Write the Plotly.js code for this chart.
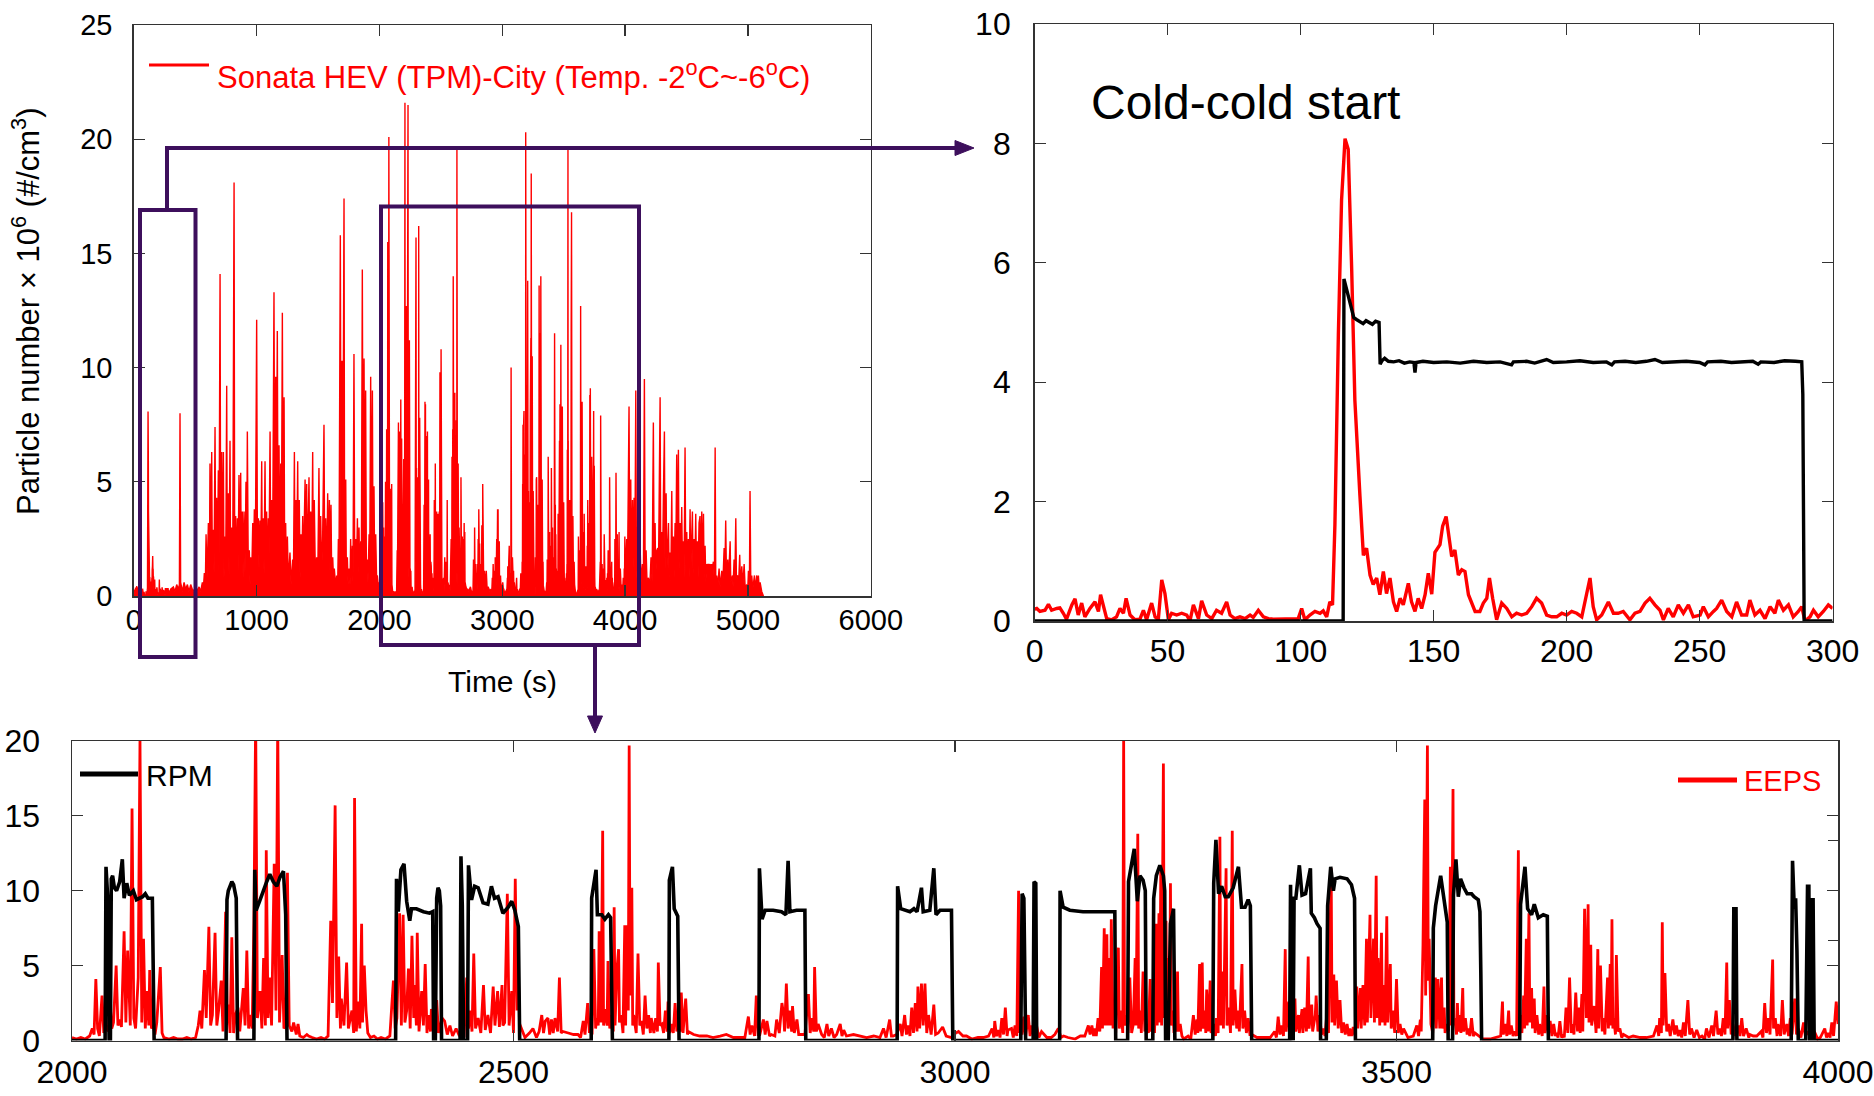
<!DOCTYPE html>
<html><head><meta charset="utf-8">
<script src="https://cdn.plot.ly/plotly-3.0.1.min.js"></script>
<style>html,body{margin:0;padding:0;background:#fff;overflow:hidden}#chart{width:1874px;height:1096px}</style>
</head><body><div id="chart"></div>
<script>
// ---------- DATA (time s, value) ----------
// Cold-start part 0-300 s, particle number x1e6 (#/cm3)
const coldEEPS = [[0,0.2],[0.8,0.21],[2.0,0.16],[3.9,0.18],[5.2,0.28],[6.4,0.18],[8.3,0.21],[9.5,0.22],[10.8,0.13],[12.0,0.03],[14.0,0.27],[15.2,0.37],[16.4,0.10],[17.7,0.30],[18.9,0.07],[20.8,0.21],[22.7,0.32],[24.0,0.16],[24.8,0.44],[25.8,0.27],[27.1,0.04],[29.0,0.02],[30.8,0.07],[32.1,0.21],[33.4,0.13],[34.4,0.38],[35.9,0.10],[37.7,0.02],[39.6,0.03],[40.9,0.18],[42.1,0.02],[44.0,0.30],[45.3,0.07],[46.5,0.02],[47.8,0.69],[49.0,0.46],[50.3,0.02],[51.5,0.13],[53.4,0.10],[55.3,0.13],[57.2,0.10],[58.4,0.0],[59.7,0.27],[61.6,0.04],[62.8,0.34],[64.7,0.10],[66.6,0.04],[68.4,0.18],[70.3,0.13],[72.2,0.32],[73.5,0.10],[75.3,0.04],[77.2,0.07],[79.1,0.04],[81.0,0.10],[82.2,0.06],[84.1,0.18],[86.0,0.07],[87.9,0.04],[89.7,0.03],[91.6,0.03],[93.5,0.04],[95.4,0.03],[97.3,0.03],[99.1,0.04],[100.4,0.21],[101.6,0.02],[103.5,0.10],[105.4,0.16],[107.3,0.13],[108.5,0.17],[109.8,0.07],[111.0,0.32],[112.0,0.27],[112.9,1.61],[114.2,4.80],[115.4,7.05],[116.7,8.08],[117.9,7.90],[119.2,5.90],[120.4,3.70],[122.3,2.10],[123.6,1.10],[124.8,1.22],[126.1,0.77],[127.3,0.61],[128.6,0.72],[129.8,0.44],[131.1,0.83],[132.3,0.46],[133.6,0.72],[134.9,0.32],[136.1,0.16],[137.4,0.38],[138.6,0.27],[140.5,0.63],[141.7,0.32],[143.0,0.16],[144.2,0.38],[145.5,0.21],[146.8,0.44],[148.0,0.80],[149.3,0.45],[150.5,1.15],[152.4,1.28],[153.4,1.59],[154.7,1.75],[155.5,1.50],[156.8,1.08],[158.0,1.19],[159.3,0.77],[160.6,0.86],[161.8,0.83],[163.1,0.44],[164.3,0.30],[165.6,0.16],[167.4,0.16],[168.7,0.30],[170.0,0.38],[171.0,0.72],[172.2,0.38],[173.7,0.02],[175.6,0.30],[177.5,0.21],[179.4,0.07],[181.2,0.13],[183.1,0.10],[185.0,0.13],[186.9,0.24],[188.7,0.38],[190.6,0.30],[192.5,0.10],[194.4,0.07],[196.3,0.07],[198.2,0.13],[200.0,0.10],[201.9,0.16],[203.8,0.13],[205.7,0.07],[207.5,0.44],[208.8,0.72],[210.0,0.24],[211.3,0.02],[213.2,0.10],[215.7,0.32],[217.6,0.13],[219.4,0.13],[221.3,0.16],[223.8,0.02],[225.7,0.13],[227.6,0.16],[229.5,0.30],[231.3,0.38],[233.2,0.27],[235.1,0.18],[236.4,0.02],[238.2,0.21],[240.1,0.07],[242.0,0.27],[243.9,0.13],[245.8,0.27],[247.6,0.07],[250.2,0.10],[251.4,0.24],[253.3,0.07],[255.2,0.16],[256.4,0.21],[258.3,0.35],[260.2,0.16],[262.1,0.07],[263.9,0.32],[265.8,0.10],[267.7,0.10],[268.9,0.35],[270.8,0.10],[272.7,0.18],[274.6,0.04],[276.5,0.24],[278.3,0.13],[279.6,0.35],[281.5,0.18],[283.4,0.27],[285.2,0.07],[287.1,0.16],[288.4,0.24],[289.6,0.0],[291.5,0.07],[292.8,0.18],[294.6,0.07],[296.5,0.16],[298.4,0.27],[300.0,0.21]];

const coldRPM = [[0,0],[116.0,0],[116.3,5.73],[117.3,5.55],[118.3,5.42],[119.2,5.25],[120.0,5.08],[121.0,5.05],[122.3,5.02],[123.5,4.98],[124.6,5.03],[125.8,5.00],[127.0,4.97],[128.2,5.02],[129.5,5.00],[129.9,4.30],[130.6,4.36],[131.6,4.40],[133.0,4.35],[135.0,4.34],[137.0,4.36],[139.0,4.32],[141.0,4.34],[142.6,4.33],[143.0,4.16],[143.4,4.33],[146,4.35],[150,4.33],[155,4.34],[160,4.32],[165,4.35],[170,4.33],[175,4.34],[179.3,4.29],[180,4.34],[185,4.35],[188,4.32],[192.5,4.38],[195,4.33],[200,4.34],[205,4.36],[210,4.33],[215,4.34],[217,4.29],[218,4.34],[222,4.35],[226,4.33],[230,4.35],[233.2,4.38],[236,4.33],[240,4.34],[245,4.35],[250,4.33],[252,4.29],[253,4.34],[258,4.35],[262,4.33],[266,4.34],[270,4.35],[272,4.30],[273,4.34],[278,4.33],[282,4.36],[286,4.35],[288.4,4.34],[288.8,3.8],[289.3,0],[300,0]];

// City cycle 300-2000 s
const cityEEPS1 = [[301,0.3],[323,0.4],[336,0.2],[350,0.5],[363,0.3],[372,0.5],[377,8.0],[382,0.6],[396,0.2],[410,0.6],[423,0.3],[437,0.5],[450,0.2],[464,0.5],[477,0.3],[491,0.2],[504,0.5],[518,0.2],[532,0.4],[545,0.2],[559,0.6],[567,0.3],[575,1.0],[583,0.4],[589,2.7],[597,0.8],[608,3.2],[616,1.0],[621,5.8],[627,1.5],[635,6.3],[640,1.2],[648,2.9],[654,1.0],[662,7.4],[667,1.5],[675,4.3],[681,0.8],[689,5.5],[694,1.0],[703,14.1],[708,1.5],[716,6.3],[722,1.2],[730,6.3],[735,0.8],[743,2.6],[749,1.0],[757,9.2],[762,1.3],[770,4.5],[776,0.9],[784,6.8],[789,1.0],[798,3.0],[806,1.2],[817,18.1],[822,1.5],[830,3.5],[838,1.0],[844,3.4],[849,1.0],[857,5.3],[863,1.2],[871,5.4],[876,1.0],[884,3.7],[890,0.8],[898,3.7],[906,1.0],[914,5.0],[920,1.5],[925,7.2],[933,0.8],[941,2.0],[947,0.5],[952,1.7],[960,0.6],[969,3.2],[974,1.0],[982,3.8],[990,1.5],[1001,12.1],[1007,1.8],[1015,3.4],[1020,1.2],[1028,3.3],[1034,1.0],[1042,5.9],[1047,1.2],[1055,3.4],[1061,1.0],[1069,5.9],[1074,1.3],[1082,3.7],[1088,1.0],[1096,3.4],[1101,1.5],[1110,7.2],[1115,1.8],[1123,4.2],[1131,2.0],[1142,13.3],[1148,2.5],[1156,9.6],[1161,2.0],[1169,11.6],[1175,2.5],[1183,6.6],[1188,1.5],[1197,5.8],[1202,2.0],[1210,12.4],[1216,2.0],[1224,8.7],[1229,1.2],[1237,3.2],[1243,0.8],[1251,2.6],[1259,0.6],[1272,1.9],[1281,0.5],[1294,1.6],[1300,0.6],[1308,6.3],[1313,1.2],[1321,4.2],[1327,1.0],[1335,5.9],[1340,1.2],[1348,4.2],[1354,0.8],[1362,2.7],[1367,1.0],[1376,3.5],[1381,1.0],[1395,5.1],[1400,1.5],[1408,4.9],[1414,1.2],[1427,5.2],[1433,1.0],[1441,3.7],[1449,1.2],[1457,6.3],[1462,1.0],[1470,4.2],[1479,0.7],[1489,1.7],[1498,0.6],[1508,5.6],[1514,1.2],[1522,3.5],[1530,1.0],[1538,2.5],[1549,7.5],[1555,1.2],[1563,3.4],[1571,1.0],[1579,4.5],[1585,1.2],[1593,4.2],[1598,1.0],[1606,4.0],[1612,0.6],[1620,1.7],[1628,0.5],[1633,1.2],[1644,0.4],[1652,0.9],[1660,0.3],[1666,2.5],[1671,1.0],[1682,15.8],[1688,2.0],[1696,10.3],[1701,1.5],[1712,17.4],[1717,1.5],[1726,5.1],[1731,0.8],[1739,1.7],[1745,0.5],[1753,1.2],[1761,0.5],[1766,2.5],[1772,0.8],[1780,2.2],[1785,0.6],[1793,10.6],[1799,1.2],[1807,2.5],[1813,1.0],[1821,3.4],[1826,1.0],[1834,3.0],[1840,0.8],[1848,2.4],[1853,1.0],[1861,14.3],[1867,3.0],[1875,10.4],[1880,2.0],[1888,9.0],[1894,1.0],[1902,1.6],[1907,0.6],[1916,2.7],[1921,0.8],[1929,9.6],[1935,1.5],[1943,9.0],[1948,1.5],[1956,4.8],[1962,0.8],[1970,2.7],[1978,0.5],[1983,0.9],[1992,0.4],[1997,0.6]];

// Detailed part 2000-4000 s (EEPS)
const zoomEEPS = [[2000,0.2],[2005,0.1],[2010,0.2],[2015,0.1],[2020,0.3],[2023,0.8],[2025,0.4],[2027,4.1],[2029,0.8],[2031,0.3],[2034,3.0],[2036,0.5],[2039,1.0],[2041,0.6],[2043,2.6],[2045,0.8],[2047,1.2],[2050,5.0],[2052,1.0],[2054,1.4],[2056,0.9],[2059,7.3],[2061,1.2],[2063,6.0],[2066,1.0],[2068,15.5],[2070,1.5],[2072,0.8],[2075,4.2],[2077,20.1],[2079,1.2],[2081,6.8],[2083,0.8],[2085,3.3],[2087,1.0],[2088,4.7],[2090,0.8],[2092,1.0],[2094,0.4],[2096,1.2],[2100,4.9],[2102,0.5],[2104,0.2],[2110,0.1],[2115,0.2],[2120,0.1],[2125,0.1],[2130,0.2],[2135,0.1],[2140,0.2],[2143,1.0],[2145,2.0],[2147,0.8],[2150,4.7],[2152,1.5],[2153,4.0],[2155,7.6],[2157,1.0],[2159,1.7],[2162,7.2],[2164,1.0],[2166,2.0],[2169,4.0],[2171,0.6],[2174,8.6],[2176,1.5],[2177,2.4],[2179,0.5],[2181,6.9],[2183,0.5],[2185,1.7],[2188,2.2],[2190,0.6],[2194,3.5],[2196,1.0],[2198,6.0],[2200,0.8],[2202,1.7],[2204,0.8],[2206,7.8],[2208,21.6],[2210,1.5],[2213,3.3],[2215,0.8],[2217,5.5],[2219,1.0],[2220,12.7],[2222,1.5],[2224,4.2],[2226,1.0],[2229,11.8],[2231,2.0],[2233,21.5],[2235,1.2],[2238,5.7],[2240,0.8],[2242,1.0],[2244,11.2],[2246,1.0],[2249,0.6],[2251,1.2],[2254,0.4],[2256,1.1],[2258,0.3],[2262,0.2],[2266,0.4],[2268,0.3],[2272,0.2],[2277,0.1],[2282,0.2],[2286,0.1],[2290,0.3],[2293,8.0],[2295,2.5],[2298,15.7],[2300,1.5],[2302,5.6],[2304,0.8],[2305,2.8],[2308,1.0],[2311,5.2],[2313,0.8],[2317,2.0],[2319,0.5],[2320,16.2],[2322,0.6],[2324,2.6],[2326,0.8],[2328,7.8],[2329,1.2],[2331,5.0],[2333,2.0],[2335,0.5],[2338,0.2],[2342,0.3],[2346,0.1],[2350,0.2],[2355,0.1],[2360,0.3],[2362,2.2],[2364,4.0],[2366,0.8],[2368,1.5],[2371,8.5],[2373,1.0],[2375,8.4],[2377,1.2],[2379,2.0],[2381,4.8],[2383,0.8],[2385,7.0],[2387,1.5],[2388,3.7],[2390,1.0],[2391,7.2],[2393,0.6],[2396,3.3],[2398,1.0],[2400,5.1],[2402,0.5],[2404,1.7],[2406,0.6],[2407,2.1],[2410,0.8],[2413,2.7],[2415,0.5],[2419,1.5],[2422,1.3],[2425,0.4],[2428,1.0],[2431,0.3],[2435,0.8],[2438,0.4],[2441,0.6],[2444,0.2],[2447,4.2],[2449,0.8],[2451,2.0],[2453,0.6],[2455,5.8],[2457,0.8],[2460,1.5],[2463,0.5],[2466,3.7],[2468,0.7],[2471,1.7],[2474,0.5],[2477,3.6],[2479,1.0],[2482,3.3],[2484,0.9],[2487,3.7],[2488,1.0],[2490,1.2],[2493,9.8],[2495,1.0],[2498,3.3],[2500,0.5],[2502,10.8],[2504,2.0],[2505,5.5],[2507,1.1],[2509,0.8],[2513,0.2],[2518,0.5],[2522,0.8],[2526,0.2],[2529,0.6],[2532,1.7],[2534,0.5],[2536,1.3],[2539,1.5],[2541,0.4],[2543,1.4],[2545,0.5],[2547,1.5],[2550,0.6],[2552,4.2],[2554,0.5],[2556,0.6],[2562,0.5],[2568,0.4],[2573,0.4],[2576,0.2],[2579,1.3],[2581,0.4],[2584,2.5],[2586,0.5],[2587,1.1],[2589,0.4],[2591,6.1],[2593,0.8],[2594,1.5],[2596,1.0],[2597,7.3],[2599,1.2],[2601,14.0],[2602,1.0],[2604,2.1],[2606,1.0],[2607,5.3],[2609,0.8],[2611,1.7],[2613,0.6],[2614,8.9],[2615,1.0],[2617,4.6],[2619,6.1],[2620,1.2],[2622,1.7],[2624,0.5],[2626,7.7],[2627,1.0],[2628,7.7],[2630,2.0],[2631,19.7],[2632,3.0],[2634,10.2],[2635,1.0],[2636,1.7],[2639,0.5],[2641,5.8],[2643,1.0],[2645,1.3],[2647,0.4],[2649,3.0],[2651,0.8],[2653,1.7],[2655,0.5],[2656,1.5],[2659,0.5],[2661,1.5],[2663,0.6],[2664,5.2],[2666,1.0],[2668,1.1],[2670,0.5],[2672,2.0],[2674,0.6],[2675,2.6],[2677,0.5],[2679,1.1],[2681,0.5],[2683,2.5],[2685,0.6],[2687,1.5],[2689,0.6],[2690,3.2],[2692,0.5],[2695,2.8],[2697,0.4],[2698,0.6],[2704,0.4],[2711,0.3],[2719,0.3],[2726,0.2],[2734,0.3],[2741,0.4],[2749,0.2],[2757,0.2],[2762,0.2],[2766,1.6],[2768,0.4],[2770,1.0],[2773,0.3],[2775,3.0],[2777,0.4],[2779,0.4],[2783,1.4],[2785,0.4],[2787,1.3],[2790,0.3],[2792,0.4],[2796,0.3],[2798,1.4],[2801,0.5],[2804,2.5],[2806,1.7],[2807,0.6],[2809,3.8],[2811,0.8],[2813,2.0],[2815,0.6],[2816,2.3],[2818,0.5],[2821,1.4],[2823,0.4],[2825,0.4],[2830,0.4],[2834,3.1],[2836,0.5],[2838,1.5],[2840,0.6],[2841,4.9],[2843,0.6],[2845,1.1],[2849,0.4],[2852,0.2],[2855,1.1],[2857,0.3],[2860,0.8],[2863,0.2],[2866,0.4],[2870,1.1],[2872,0.3],[2874,0.7],[2877,0.3],[2885,0.4],[2892,0.3],[2900,0.2],[2908,0.3],[2915,0.2],[2919,0.8],[2922,0.2],[2926,1.4],[2928,0.3],[2930,0.3],[2934,0.4],[2938,1.1],[2940,0.3],[2943,1.7],[2945,0.4],[2947,1.0],[2949,0.3],[2951,2.2],[2953,0.5],[2955,2.5],[2957,0.6],[2958,3.6],[2960,0.8],[2962,3.8],[2964,1.0],[2966,3.8],[2968,0.5],[2970,1.7],[2973,0.4],[2976,2.4],[2978,0.4],[2981,0.5],[2986,0.9],[2990,0.3],[2996,0.2],[2998,0.4],[3004,0.6],[3009,0.3],[3013,0.3],[3019,0.1],[3026,0.2],[3032,0.2],[3038,0.3],[3042,0.8],[3044,0.2],[3045,1.3],[3047,0.3],[3049,0.7],[3051,0.2],[3053,1.5],[3055,0.4],[3057,2.2],[3059,0.3],[3060,0.7],[3064,0.8],[3066,0.2],[3068,1.0],[3070,0.3],[3072,10.0],[3073,0.5],[3074,1.7],[3076,0.4],[3078,1.6],[3080,0.3],[3083,1.7],[3085,0.3],[3087,1.0],[3089,0.3],[3092,1.1],[3095,0.2],[3098,0.6],[3104,0.2],[3109,0.2],[3113,0.4],[3117,0.8],[3120,0.2],[3123,0.3],[3128,0.2],[3136,0.1],[3142,0.3],[3147,0.3],[3151,1.0],[3153,0.4],[3155,1.0],[3157,0.3],[3158,0.8],[3160,0.3],[3162,1.5],[3164,0.6],[3166,4.9],[3167,0.8],[3169,7.5],[3170,1.0],[3172,7.1],[3173,1.0],[3175,5.5],[3176,1.0],[3177,8.1],[3179,0.8],[3180,2.0],[3182,0.5],[3185,6.2],[3186,0.8],[3188,2.0],[3190,0.5],[3191,20.3],[3192,1.0],[3194,1.7],[3196,0.5],[3198,4.2],[3200,0.5],[3202,1.1],[3204,5.5],[3205,1.0],[3207,13.8],[3208,0.8],[3210,2.0],[3211,0.5],[3213,4.6],[3215,0.6],[3217,1.1],[3219,0.5],[3221,4.1],[3222,0.6],[3225,1.3],[3226,0.5],[3228,7.8],[3229,1.0],[3231,8.5],[3232,1.2],[3233,11.3],[3234,1.0],[3236,18.5],[3237,1.5],[3239,8.0],[3240,1.0],[3242,5.5],[3243,1.2],[3244,10.5],[3245,1.0],[3247,2.0],[3248,0.5],[3249,1.7],[3251,0.6],[3252,4.6],[3253,0.6],[3255,1.1],[3257,0.3],[3259,0.1],[3264,0.3],[3267,0.1],[3270,1.7],[3272,0.4],[3274,1.4],[3275,0.5],[3277,5.1],[3278,0.6],[3280,5.2],[3281,0.8],[3283,2.0],[3284,0.5],[3285,3.4],[3287,0.6],[3289,4.0],[3290,0.5],[3293,1.1],[3295,0.3],[3296,1.5],[3298,0.5],[3300,13.6],[3301,1.0],[3303,4.6],[3304,0.8],[3307,11.5],[3308,1.0],[3310,2.2],[3312,0.5],[3314,14.0],[3315,1.0],[3317,3.4],[3319,0.8],[3321,2.0],[3322,0.6],[3325,5.1],[3326,0.8],[3328,2.0],[3330,0.5],[3332,1.5],[3334,0.4],[3336,0.4],[3342,0.2],[3349,0.2],[3357,0.2],[3362,0.6],[3364,0.2],[3366,1.6],[3368,0.4],[3370,1.0],[3372,0.3],[3374,6.1],[3375,0.6],[3378,2.6],[3379,0.5],[3381,1.8],[3383,0.5],[3385,2.8],[3386,0.6],[3389,1.7],[3390,0.5],[3393,2.1],[3394,0.5],[3396,2.2],[3398,0.6],[3400,5.6],[3401,0.8],[3404,2.4],[3405,0.6],[3408,1.7],[3409,3.0],[3411,0.6],[3413,1.7],[3415,0.4],[3417,0.8],[3419,0.3],[3421,1.7],[3423,0.5],[3426,11.5],[3427,1.2],[3429,4.4],[3430,1.0],[3432,4.0],[3434,0.8],[3436,2.7],[3438,0.5],[3440,1.2],[3442,0.4],[3444,1.1],[3446,0.3],[3447,0.8],[3449,0.3],[3451,0.9],[3453,0.3],[3455,3.6],[3456,0.8],[3459,3.5],[3460,0.8],[3462,3.7],[3464,1.0],[3466,6.8],[3467,1.2],[3470,8.4],[3471,1.5],[3474,6.8],[3475,1.2],[3477,11.0],[3478,1.5],[3479,5.5],[3481,1.0],[3483,7.2],[3484,1.2],[3486,3.7],[3487,1.0],[3489,8.3],[3490,1.2],[3493,5.1],[3494,0.8],[3496,2.0],[3498,0.5],[3500,4.1],[3502,0.5],[3504,1.1],[3506,0.4],[3508,0.8],[3513,0.2],[3519,0.3],[3523,1.0],[3525,0.3],[3527,1.4],[3528,0.6],[3530,6.4],[3532,16.1],[3533,3.0],[3535,19.7],[3536,4.0],[3537,6.8],[3539,1.1],[3541,0.5],[3544,4.2],[3545,0.8],[3547,4.1],[3549,0.8],[3551,4.2],[3552,0.8],[3554,2.2],[3555,0.5],[3557,1.1],[3559,0.6],[3561,11.6],[3562,1.0],[3564,16.8],[3565,1.0],[3566,1.5],[3568,0.4],[3569,2.5],[3570,0.6],[3572,1.7],[3573,0.5],[3575,3.5],[3576,0.6],[3578,1.5],[3580,0.4],[3581,0.8],[3583,0.3],[3585,1.5],[3587,0.3],[3589,0.5],[3593,0.3],[3598,0.1],[3606,0.1],[3613,0.2],[3618,0.3],[3620,2.6],[3621,0.4],[3623,1.1],[3625,0.3],[3627,2.0],[3628,0.4],[3630,1.0],[3632,0.3],[3634,0.6],[3636,0.3],[3638,12.7],[3639,0.8],[3640,1.7],[3642,0.5],[3644,3.0],[3645,0.8],[3647,6.8],[3648,1.0],[3650,8.5],[3651,1.2],[3653,3.5],[3654,0.8],[3656,2.8],[3657,0.5],[3659,1.7],[3661,0.4],[3662,1.1],[3665,0.3],[3667,3.6],[3668,0.5],[3670,1.7],[3672,0.4],[3674,1.3],[3676,0.3],[3678,1.1],[3680,0.3],[3681,0.5],[3683,0.2],[3685,1.3],[3687,0.2],[3689,0.4],[3690,0.2],[3692,2.2],[3694,0.5],[3696,4.2],[3698,0.5],[3700,1.1],[3701,0.4],[3703,3.2],[3705,0.6],[3707,2.2],[3708,0.5],[3710,3.1],[3711,0.6],[3713,8.8],[3715,1.5],[3717,9.1],[3718,1.2],[3720,6.4],[3721,1.0],[3724,2.3],[3726,0.5],[3728,6.1],[3729,0.8],[3731,5.0],[3733,0.6],[3734,1.5],[3736,0.4],[3739,4.2],[3740,0.8],[3742,5.1],[3743,1.0],[3744,8.1],[3745,0.8],[3746,1.5],[3748,0.4],[3749,5.7],[3751,0.6],[3753,0.8],[3755,0.2],[3757,0.4],[3763,0.2],[3768,0.3],[3776,0.2],[3783,0.2],[3791,0.3],[3795,1.0],[3797,0.3],[3798,1.5],[3800,0.5],[3801,7.9],[3802,1.0],[3804,4.5],[3806,0.6],[3808,1.1],[3810,0.3],[3813,1.4],[3815,0.4],[3817,1.0],[3819,0.3],[3821,0.7],[3823,0.2],[3825,1.2],[3827,0.3],[3830,2.7],[3832,0.4],[3834,0.8],[3837,0.2],[3840,0.7],[3843,0.2],[3846,0.3],[3849,0.1],[3851,0.8],[3854,0.2],[3857,1.0],[3859,0.3],[3862,2.0],[3864,0.4],[3866,0.8],[3868,0.3],[3870,1.5],[3872,0.4],[3874,5.2],[3875,0.8],[3877,2.7],[3879,0.4],[3881,1.1],[3884,0.3],[3887,1.0],[3889,0.3],[3891,1.5],[3893,0.3],[3896,0.8],[3899,0.2],[3900,0.4],[3904,0.3],[3908,0.3],[3913,0.6],[3915,0.2],[3917,2.5],[3919,0.5],[3921,1.5],[3923,0.4],[3926,5.4],[3927,0.8],[3929,1.5],[3931,0.3],[3932,1.1],[3935,0.3],[3937,2.7],[3939,0.4],[3942,1.1],[3944,0.3],[3946,1.5],[3948,0.4],[3951,2.8],[3953,0.4],[3955,0.8],[3958,0.2],[3961,1.2],[3963,0.3],[3965,0.6],[3968,0.3],[3970,0.2],[3974,0.5],[3977,0.1],[3980,0.2],[3985,0.8],[3987,0.2],[3989,0.5],[3991,0.2],[3993,1.2],[3995,0.3],[3998,2.6],[4000,1.1]];

const zoomRPM = [[2000,0],[2037.5,0],[2038.5,11.6],[2040.5,9.5],[2042,0],[2043.5,0],[2044.5,10.8],[2046,11.0],[2048,10.2],[2050.5,10.0],[2054,10.6],[2057,12.1],[2059,9.5],[2062,10.5],[2065,9.7],[2069.5,10.0],[2073,9.4],[2077,9.5],[2080,9.6],[2083,9.8],[2086,9.5],[2091,9.5],[2092,5.0],[2093,0],[2174.5,0],[2175.5,9.4],[2177,10.0],[2181,10.6],[2183,10.4],[2186,9.5],[2187.5,0],[2206,0],[2207,11.4],[2208.5,8.7],[2212.5,9.3],[2216.5,10.0],[2220.5,10.6],[2224,11.1],[2228,10.6],[2232,10.3],[2235.5,10.9],[2239.5,11.3],[2242,8.4],[2243.5,0],[2366.5,0],[2367.5,10.8],[2369.5,8.6],[2372.5,11.4],[2376,11.8],[2379,9.3],[2382.5,8.0],[2384.5,8.8],[2390,8.8],[2398,8.6],[2405,8.5],[2408.5,8.6],[2409.5,0],[2411.5,0],[2413,9.5],[2414.5,10.2],[2416,10.0],[2417.5,9.0],[2418.5,0],[2439.5,0],[2440.5,12.3],[2442,9.0],[2443.5,0],[2448,0],[2449,11.7],[2452.5,9.4],[2456,10.3],[2460,10.2],[2465.5,9.2],[2471,9.1],[2475,10.3],[2478.5,9.5],[2482.5,9.6],[2488,8.5],[2494,8.9],[2498,9.3],[2501.5,8.7],[2505.5,7.6],[2507,0],[2588,0],[2588.5,9.5],[2593.5,11.4],[2595,8.4],[2600,8.4],[2603.5,8.1],[2607.5,8.4],[2610,8.2],[2612,0],[2676,0],[2676.5,10.7],[2680,11.6],[2682,8.8],[2686,8.3],[2687.5,0],[2778,0],[2778.5,11.5],[2781.5,8.1],[2785,8.7],[2794,8.7],[2803.5,8.6],[2808.5,8.4],[2811,12.0],[2813,8.6],[2820.5,8.7],[2830,8.7],[2831,0],[2934.5,0],[2935,10.3],[2938.5,8.8],[2949,8.6],[2953.5,8.8],[2957,8.6],[2962,10.2],[2964,8.6],[2971.5,8.7],[2976,11.5],[2978.5,8.4],[2983,8.7],[2996,8.7],[2997.5,0],[3074.5,0],[3076,9.8],[3078,9.5],[3080,0],[3088.5,0],[3089.5,10.6],[3091.5,10.5],[3092.5,0],[3118.5,0],[3119,10.0],[3122.5,8.9],[3130,8.7],[3145,8.6],[3160,8.6],[3175,8.6],[3181,8.6],[3182,0],[3195.5,0],[3196.5,10.6],[3200,12.0],[3203,12.8],[3206.5,9.3],[3209.5,11.0],[3213,10.7],[3215.5,10.0],[3216.5,0],[3224,0],[3225,9.5],[3228,11.0],[3232,11.7],[3236,11.0],[3237.5,10.0],[3238.5,0],[3241.5,0],[3244,7.8],[3247.5,8.8],[3249,0],[3292,0],[3293,10.5],[3295.5,13.4],[3298.5,9.8],[3302,10.3],[3306,9.6],[3309.5,9.6],[3315,10.2],[3321,11.6],[3324.5,8.9],[3328.5,8.9],[3332,9.4],[3334.5,9.0],[3336,0],[3379,0],[3380,10.4],[3381.5,0.5],[3383,0],[3384,9.5],[3386,9.5],[3390,11.7],[3393,9.7],[3397,9.8],[3400,10.8],[3402.5,11.5],[3403.5,8.5],[3407,8.2],[3410,7.8],[3413.5,7.5],[3414,0],[3420.5,0],[3422,9.0],[3425.5,11.6],[3428.5,10.0],[3430.5,10.8],[3436,10.9],[3444,10.8],[3449,10.4],[3452.5,9.5],[3453.5,0],[3541,0],[3541.7,7.5],[3544.3,9.0],[3550,11.0],[3553.8,9.5],[3557.5,7.9],[3558.5,0],[3563.5,0],[3564.5,9.7],[3567.3,12.1],[3570,9.6],[3572.6,10.8],[3576.4,10.2],[3580,9.8],[3585,9.8],[3587.8,9.6],[3592.6,9.4],[3594.5,8.6],[3595.5,4.5],[3596.4,0],[3639.5,0],[3640.5,9.1],[3645.5,11.6],[3648.5,8.8],[3653,8.4],[3656,9.1],[3660.6,8.2],[3666.2,8.4],[3670.8,8.3],[3672,0],[3881,0],[3882,8.8],[3884.5,8.8],[3885.5,0],[3947,0],[3948.5,12.0],[3950.5,8.8],[3952,9.5],[3953.5,6.0],[3955,0],[3963.5,0],[3965.5,10.3],[3967,10.3],[3968,0],[3969.5,0],[3970.5,9.4],[3971.8,9.4],[3973,0],[4000,0]];

// City cycle 4000-5130 s
const cityEEPS2 = [[4005,0.6],[4013,2.5],[4019,0.8],[4032,8.3],[4038,1.5],[4046,5.1],[4051,1.0],[4060,4.2],[4065,1.2],[4073,4.3],[4079,1.0],[4087,9.0],[4092,1.5],[4100,0.3],[4111,1.8],[4117,0.5],[4122,2.2],[4130,0.6],[4141,1.4],[4149,0.5],[4157,9.5],[4163,1.2],[4171,2.0],[4179,0.5],[4190,0.8],[4201,0.4],[4211,1.7],[4220,0.6],[4230,7.6],[4236,1.5],[4244,3.2],[4249,0.8],[4258,2.0],[4266,2.1],[4271,0.7],[4285,8.7],[4290,1.5],[4298,2.8],[4304,1.0],[4312,4.5],[4320,7.2],[4325,1.2],[4334,4.5],[4339,1.0],[4353,3.2],[4358,0.8],[4366,1.9],[4372,0.6],[4380,4.6],[4385,1.0],[4393,2.6],[4399,0.8],[4407,3.2],[4412,1.0],[4420,6.2],[4426,1.5],[4434,6.4],[4439,1.2],[4448,3.2],[4453,1.0],[4461,3.9],[4467,1.0],[4475,2.4],[4480,0.8],[4488,6.5],[4494,1.0],[4502,2.8],[4507,0.8],[4515,2.5],[4521,0.8],[4529,3.8],[4534,1.0],[4543,3.0],[4548,3.7],[4553,1.0],[4562,2.5],[4567,0.8],[4575,3.6],[4581,1.0],[4589,2.4],[4594,0.8],[4602,3.2],[4610,3.5],[4616,1.0],[4624,3.7],[4629,1.0],[4638,3.6],[4643,0.8],[4651,2.2],[4657,0.6],[4665,1.4],[4671,1.3],[4678,1.4],[4685,1.3],[4692,1.4],[4698,1.2],[4705,1.4],[4712,1.3],[4719,1.5],[4727,0.5],[4733,6.5],[4738,0.8],[4746,0.9],[4754,0.4],[4765,1.2],[4773,0.4],[4787,1.1],[4795,0.4],[4806,2.1],[4811,0.5],[4819,3.3],[4825,0.8],[4836,1.6],[4841,0.5],[4855,2.4],[4860,0.6],[4874,0.9],[4879,0.4],[4887,1.6],[4893,0.5],[4901,3.4],[4906,0.8],[4917,0.9],[4923,0.4],[4933,1.8],[4939,0.5],[4950,1.3],[4958,0.4],[4969,1.4],[4977,0.4],[4990,0.5],[4998,0.2],[5004,1.1],[5012,0.5],[5017,4.6],[5023,0.6],[5031,0.9],[5039,0.3],[5053,0.9],[5061,0.3],[5072,0.9],[5080,0.3],[5085,0.9],[5093,0.2],[5099,0.6],[5112,0.2],[5126,0.0]];

// Text
const legendCity = 'Sonata HEV (TPM)-City (Temp. -2<sup>o</sup>C~-6<sup>o</sup>C)';
const coldLabel = 'Cold-cold start';
const rpmName = 'RPM';
const eepsName = 'EEPS';
const xTitle = 'Time (s)';
const yTitle = 'Particle number \u00d7 10<sup>6</sup> (#/cm<sup>3</sup>)';

// ---------- BUILD ----------
const W = 1874, H = 1096;
const PX = v => v / W, PY = v => 1 - v / H;
const xs = a => a.map(p => p[0]);
const ys = a => a.map(p => p[1]);
const fullSeries = coldEEPS.concat(cityEEPS1, zoomEEPS, cityEEPS2);

const RED = '#ff0000', PURPLE = '#3d0f5c', AX = '#333333';
const SANS = 'Liberation Sans, Arial, sans-serif';

const traces = [
  {type:'scatter', mode:'lines', x: xs(fullSeries), y: ys(fullSeries), xaxis:'x', yaxis:'y',
   line:{color:RED, width:1.4}, fill:'tozeroy', fillcolor:RED, hoverinfo:'skip'},
  {type:'scatter', mode:'lines', x: xs(coldEEPS), y: ys(coldEEPS), xaxis:'x2', yaxis:'y2',
   line:{color:RED, width:3.4}, hoverinfo:'skip'},
  {type:'scatter', mode:'lines', x: xs(coldRPM), y: ys(coldRPM), xaxis:'x2', yaxis:'y2',
   line:{color:'#000', width:3.4}, hoverinfo:'skip'},
  {type:'scatter', mode:'lines', x: xs(zoomEEPS), y: ys(zoomEEPS), xaxis:'x3', yaxis:'y3',
   line:{color:RED, width:2.8}, hoverinfo:'skip'},
  {type:'scatter', mode:'lines', x: xs(zoomRPM), y: ys(zoomRPM), xaxis:'x3', yaxis:'y4',
   line:{color:'#000', width:3.6}, hoverinfo:'skip'}
];

function ax(extra){
  return Object.assign({showline:true, linecolor:AX, linewidth:1.5, mirror:'ticks',
    ticks:'inside', ticklen:11, tickwidth:1.2, tickcolor:AX, showgrid:false, zeroline:false,
    automargin:false, fixedrange:true, ticklabeloverflow:'allow'}, extra);
}

const layout = {
  width: W, height: H, margin:{l:0,r:0,t:0,b:0}, showlegend:false,
  paper_bgcolor:'#fff', plot_bgcolor:'#fff', font:{family:SANS, color:'#000'},
  xaxis: ax({domain:[PX(133.7), PX(870.8)], anchor:'y', range:[0,6000], tick0:0, dtick:1000,
    tickfont:{size:29, family:SANS}, ticklabelstandoff:-2}),
  yaxis: ax({domain:[PY(596), PY(25)], anchor:'x', range:[0,25], tick0:0, dtick:5,
    tickfont:{size:29, family:SANS}, ticklabelstandoff:14}),
  xaxis2: ax({domain:[PX(1034.6), PX(1832.6)], anchor:'y2', range:[0,300], tick0:0, dtick:50,
    tickfont:{size:32, family:SANS}, ticklabelstandoff:1}),
  yaxis2: ax({domain:[PY(621), PY(24)], anchor:'x2', range:[0,10], tick0:0, dtick:2,
    tickfont:{size:32, family:SANS}, ticklabelstandoff:16}),
  xaxis3: ax({domain:[PX(72), PX(1838)], anchor:'y3', range:[2000,4000], tick0:2000, dtick:500,
    tickfont:{size:32, family:SANS}, ticklabelstandoff:3}),
  yaxis3: ax({domain:[PY(1040.5), PY(741)], anchor:'x3', range:[0,20], tick0:0, dtick:5,
    tickfont:{size:32, family:SANS}, ticklabelstandoff:24}),
  yaxis4: {overlaying:'y3', anchor:'x3', side:'right', range:[0,20], tick0:0, dtick:20/3,
    ticks:'inside', ticklen:10, tickwidth:1.2, tickcolor:AX, showticklabels:false,
    showline:false, showgrid:false, zeroline:false, fixedrange:true},
  shapes: [
    {type:'line', xref:'paper', yref:'paper', x0:PX(149), x1:PX(209), y0:PY(65), y1:PY(65), line:{color:RED, width:3}},
    {type:'line', xref:'paper', yref:'paper', x0:PX(80), x1:PX(138), y0:PY(774), y1:PY(774), line:{color:'#000', width:5}},
    {type:'line', xref:'paper', yref:'paper', x0:PX(1678), x1:PX(1737), y0:PY(780), y1:PY(780), line:{color:RED, width:5}},
    {type:'rect', xref:'paper', yref:'paper', x0:PX(140), x1:PX(195.5), y0:PY(210), y1:PY(657), line:{color:PURPLE, width:4}},
    {type:'path', xref:'paper', yref:'paper', path:`M ${PX(167)} ${PY(210)} L ${PX(167)} ${PY(148)} L ${PX(958)} ${PY(148)}`, line:{color:PURPLE, width:4}},
    {type:'path', xref:'paper', yref:'paper', path:`M ${PX(974)} ${PY(148)} L ${PX(955)} ${PY(140.5)} L ${PX(955)} ${PY(155.5)} Z`, fillcolor:PURPLE, line:{color:PURPLE, width:1}},
    {type:'rect', xref:'paper', yref:'paper', x0:PX(381), x1:PX(639), y0:PY(206.5), y1:PY(645), line:{color:PURPLE, width:4}},
    {type:'line', xref:'paper', yref:'paper', x0:PX(595), x1:PX(595), y0:PY(645), y1:PY(718), line:{color:PURPLE, width:4}},
    {type:'path', xref:'paper', yref:'paper', path:`M ${PX(595)} ${PY(733)} L ${PX(587.5)} ${PY(716)} L ${PX(602.5)} ${PY(716)} Z`, fillcolor:PURPLE, line:{color:PURPLE, width:1}}
  ],
  annotations: [
    {xref:'paper', yref:'paper', x:PX(215), y:PY(75), xanchor:'left', yanchor:'middle', showarrow:false,
     text:legendCity, font:{size:31, color:RED, family:SANS}},
    {xref:'paper', yref:'paper', x:PX(502), y:PY(681), xanchor:'center', yanchor:'middle', showarrow:false,
     text:xTitle, font:{size:30, color:'#000', family:SANS}},
    {xref:'paper', yref:'paper', x:PX(26), y:PY(312), xanchor:'center', yanchor:'middle', showarrow:false,
     textangle:-90, text:yTitle, font:{size:31, color:'#000', family:SANS}},
    {xref:'paper', yref:'paper', x:PX(1089), y:PY(103), xanchor:'left', yanchor:'middle', showarrow:false,
     text:coldLabel, font:{size:48, color:'#000', family:SANS}},
    {xref:'paper', yref:'paper', x:PX(144), y:PY(775), xanchor:'left', yanchor:'middle', showarrow:false,
     text:rpmName, font:{size:30, color:'#000', family:SANS}},
    {xref:'paper', yref:'paper', x:PX(1742), y:PY(781), xanchor:'left', yanchor:'middle', showarrow:false,
     text:eepsName, font:{size:29, color:RED, family:SANS}}
  ]
};

Plotly.newPlot('chart', traces, layout, {staticPlot:true, displayModeBar:false});
</script>
</body></html>
